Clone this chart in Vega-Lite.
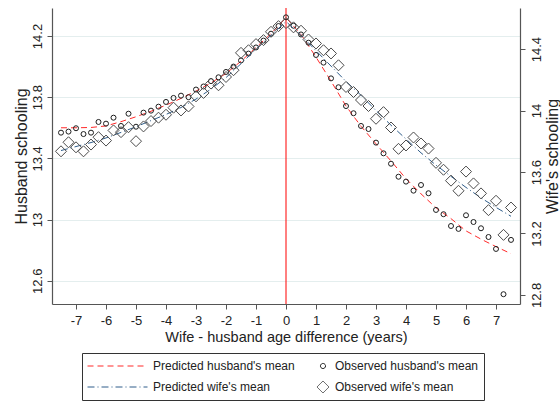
{
  "$schema": "https://vega.github.io/schema/vega-lite/v6.json",
  "width": 468,
  "height": 296,
  "autosize": {"type": "none"},
  "padding": {"left": 52, "top": 8, "right": 40, "bottom": 99},
  "background": "white",
  "config": {
    "font": "Liberation Sans",
    "view": {"stroke": null},
    "axis": {
      "domainColor": "#555555",
      "tickColor": "#555555",
      "labelColor": "#222222",
      "titleColor": "#222222",
      "titleFontWeight": "normal",
      "domainWidth": 1.2,
      "tickWidth": 1,
      "tickSize": 5,
      "labelFlush": false,
      "labelOverlap": false
    },
    "legend": {
      "columns": 2,
      "columnPadding": 4,
      "rowPadding": 5,
      "padding": 5,
      "strokeColor": "#333333",
      "fillColor": "white",
      "symbolSize": 3600,
      "clipHeight": 16,
      "labelFontSize": 12,
      "labelColor": "#222222",
      "labelOffset": 5,
      "labelLimit": 300,
      "symbolStrokeWidth": 1
    }
  },
  "datasets": {
    "observed": [
      {"d": -7.5, "oh": 13.568, "ow": 13.735},
      {"d": -7.25, "oh": 13.575, "ow": 13.794},
      {"d": -7.0, "oh": 13.597, "ow": 13.761},
      {"d": -6.75, "oh": 13.559, "ow": 13.735},
      {"d": -6.5, "oh": 13.568, "ow": 13.779},
      {"d": -6.25, "oh": 13.638, "ow": 13.827},
      {"d": -6.0, "oh": 13.627, "ow": 13.805},
      {"d": -5.75, "oh": 13.666, "ow": 13.871},
      {"d": -5.5, "oh": 13.612, "ow": 13.86},
      {"d": -5.25, "oh": 13.692, "ow": 13.892},
      {"d": -5.0, "oh": 13.607, "ow": 13.801},
      {"d": -4.75, "oh": 13.699, "ow": 13.897},
      {"d": -4.5, "oh": 13.712, "ow": 13.932},
      {"d": -4.25, "oh": 13.738, "ow": 13.954},
      {"d": -4.0, "oh": 13.769, "ow": 13.973},
      {"d": -3.75, "oh": 13.795, "ow": 14.019},
      {"d": -3.5, "oh": 13.81, "ow": 14.001},
      {"d": -3.25, "oh": 13.8, "ow": 14.027},
      {"d": -3.0, "oh": 13.85, "ow": 14.093},
      {"d": -2.75, "oh": 13.87, "ow": 14.115},
      {"d": -2.5, "oh": 13.905, "ow": 14.176},
      {"d": -2.25, "oh": 13.93, "ow": 14.165},
      {"d": -2.0, "oh": 13.965, "ow": 14.219},
      {"d": -1.75, "oh": 14.0, "ow": 14.263},
      {"d": -1.5, "oh": 14.04, "ow": 14.376},
      {"d": -1.25, "oh": 14.085, "ow": 14.393},
      {"d": -1.0, "oh": 14.125, "ow": 14.433},
      {"d": -0.75, "oh": 14.17, "ow": 14.459},
      {"d": -0.5, "oh": 14.215, "ow": 14.513},
      {"d": -0.25, "oh": 14.265, "ow": 14.55},
      {"d": 0.0, "oh": 14.322, "ow": 14.57},
      {"d": 0.25, "oh": 14.267, "ow": 14.542},
      {"d": 0.5, "oh": 14.21, "ow": 14.52},
      {"d": 0.75, "oh": 14.156, "ow": 14.463},
      {"d": 1.0, "oh": 14.076, "ow": 14.437},
      {"d": 1.25, "oh": 14.026, "ow": 14.393},
      {"d": 1.5, "oh": 13.923, "ow": 14.372},
      {"d": 1.75, "oh": 13.865, "ow": 14.295},
      {"d": 2.0, "oh": 13.742, "ow": 14.154},
      {"d": 2.25, "oh": 13.695, "ow": 14.121},
      {"d": 2.5, "oh": 13.612, "ow": 14.069},
      {"d": 2.75, "oh": 13.592, "ow": 14.03},
      {"d": 3.0, "oh": 13.503, "ow": 13.947},
      {"d": 3.25, "oh": 13.433, "ow": 13.99},
      {"d": 3.5, "oh": 13.365, "ow": 13.89},
      {"d": 3.75, "oh": 13.28, "ow": 13.751},
      {"d": 4.0, "oh": 13.248, "ow": 13.773},
      {"d": 4.25, "oh": 13.189, "ow": 13.825},
      {"d": 4.5, "oh": 13.226, "ow": 13.786},
      {"d": 4.75, "oh": 13.172, "ow": 13.753},
      {"d": 5.0, "oh": 13.063, "ow": 13.66},
      {"d": 5.25, "oh": 13.035, "ow": 13.615},
      {"d": 5.5, "oh": 12.958, "ow": 13.544},
      {"d": 5.75, "oh": 12.939, "ow": 13.478},
      {"d": 6.0, "oh": 13.028, "ow": 13.603},
      {"d": 6.25, "oh": 12.984, "ow": 13.526},
      {"d": 6.5, "oh": 12.943, "ow": 13.461},
      {"d": 6.75, "oh": 12.886, "ow": 13.352},
      {"d": 7.0, "oh": 12.808, "ow": 13.413},
      {"d": 7.25, "oh": 12.512, "ow": 13.191},
      {"d": 7.5, "oh": 12.867, "ow": 13.369}
    ],
    "predicted": [
      {"d": -7.5, "ph": 13.6, "pw": 13.74},
      {"d": -7.0, "ph": 13.6, "pw": 13.766},
      {"d": -6.5, "ph": 13.602, "pw": 13.792},
      {"d": -6.0, "ph": 13.612, "pw": 13.822},
      {"d": -5.5, "ph": 13.64, "pw": 13.858},
      {"d": -5.0, "ph": 13.672, "pw": 13.895},
      {"d": -4.5, "ph": 13.708, "pw": 13.935},
      {"d": -4.0, "ph": 13.748, "pw": 13.975},
      {"d": -3.5, "ph": 13.792, "pw": 14.02},
      {"d": -3.0, "ph": 13.84, "pw": 14.075},
      {"d": -2.5, "ph": 13.893, "pw": 14.14},
      {"d": -2.0, "ph": 13.955, "pw": 14.215},
      {"d": -1.5, "ph": 14.035, "pw": 14.305},
      {"d": -1.0, "ph": 14.125, "pw": 14.4},
      {"d": -0.5, "ph": 14.215, "pw": 14.49},
      {"d": 0.0, "ph": 14.32, "pw": 14.58},
      {"d": 0.5, "ph": 14.21, "pw": 14.49},
      {"d": 1.0, "ph": 14.062, "pw": 14.39},
      {"d": 1.5, "ph": 13.905, "pw": 14.29},
      {"d": 2.0, "ph": 13.742, "pw": 14.19},
      {"d": 2.5, "ph": 13.61, "pw": 14.1},
      {"d": 3.0, "ph": 13.495, "pw": 14.0},
      {"d": 3.5, "ph": 13.383, "pw": 13.905},
      {"d": 4.0, "ph": 13.267, "pw": 13.815},
      {"d": 4.5, "ph": 13.168, "pw": 13.725},
      {"d": 5.0, "ph": 13.077, "pw": 13.645},
      {"d": 5.5, "ph": 13.006, "pw": 13.572},
      {"d": 6.0, "ph": 12.926, "pw": 13.5},
      {"d": 6.5, "ph": 12.872, "pw": 13.432},
      {"d": 7.0, "ph": 12.823, "pw": 13.37},
      {"d": 7.5, "ph": 12.777, "pw": 13.312}
    ]
  },
  "layer": [
    {
      "data": {"values": [{"d": 0}]},
      "mark": {"type": "rule", "color": "#ff0000", "strokeWidth": 1},
      "encoding": {
        "x": {
          "field": "d", "type": "quantitative",
          "scale": {"domain": [-7.8, 7.8], "nice": false, "zero": false},
          "axis": {
            "values": [-7, -6, -5, -4, -3, -2, -1, 0, 1, 2, 3, 4, 5, 6, 7],
            "labelExpr": "'' + datum.value",
            "title": "Wife - husband age difference (years)",
            "labelFontSize": 13, "titleFontSize": 14.5,
            "labelPadding": 5, "titlePadding": 3, "grid": false
          }
        }
      }
    },
    {
      "encoding": {
        "x": {
          "field": "d", "type": "quantitative",
          "scale": {"domain": [-7.8, 7.8], "nice": false, "zero": false},
          "axis": {
            "values": [-7, -6, -5, -4, -3, -2, -1, 0, 1, 2, 3, 4, 5, 6, 7],
            "labelExpr": "'' + datum.value",
            "title": "Wife - husband age difference (years)",
            "labelFontSize": 13, "titleFontSize": 14.5,
            "labelPadding": 5, "titlePadding": 3, "grid": false
          }
        },
        "y": {
          "field": "v", "type": "quantitative",
          "scale": {"domain": [12.448, 14.383], "nice": false, "zero": false},
          "axis": {
            "orient": "left",
            "values": [12.6, 13, 13.4, 13.8, 14.2],
            "labelExpr": "'' + datum.value",
            "title": "Husband schooling",
            "titleFontSize": 16, "titlePadding": 2,
            "labelFontSize": 13, "labelAngle": -90,
            "labelAlign": "center", "labelBaseline": "bottom", "labelPadding": 3,
            "grid": true, "gridColor": "#e4eeee", "gridWidth": 1
          }
        },
        "color": {
          "field": "series", "type": "nominal",
          "scale": {"domain": ["ph", "pw", "oh", "ow"], "range": ["#ff2a2a", "#2f5d8a", "#1e1e1e", "#4a4a4a"]},
          "legend": {
            "orient": "none", "legendX": 30, "legendY": 345, "title": null,
            "labelExpr": "{ph: \"Predicted husband's mean\", oh: \"Observed husband's mean\", pw: \"Predicted wife's mean\", ow: \"Observed wife's mean\"}[datum.value]",
            "encode": {
              "symbols": {
                "update": {
                  "shape": {"signal": "datum.value === 'oh' ? 'M-0.132,0A0.085,0.085 0 1,1 -0.302,0A0.085,0.085 0 1,1 -0.132,0Z' : datum.value === 'ow' ? 'M-0.417,0L-0.217,-0.2L-0.017,0L-0.217,0.2Z' : 'M-1,0H1'"},
                  "strokeDash": {"signal": "datum.value === 'ph' ? [6,4] : datum.value === 'pw' ? [8,3,1,3] : [1,0]"},
                  "size": {"value": 3600},
                  "fill": {"value": "transparent"},
                  "strokeWidth": {"value": 1},
                  "opacity": {"value": 1}
                }
              },
              "labels": {
                "update": {
                  "x": {"signal": "datum.value === 'oh' || datum.value === 'ow' ? 36 : 66"}
                }
              }
            }
          }
        }
      },
      "layer": [
        {
          "data": {"name": "predicted"},
          "transform": [{"fold": ["ph"], "as": ["series", "v"]}],
          "mark": {"type": "line", "strokeWidth": 1},
          "encoding": {
            "strokeDash": {
              "field": "series", "type": "nominal",
              "scale": {"domain": ["ph", "pw", "oh", "ow"], "range": [[6, 4], [7, 3, 1, 3], [1, 0], [1, 0]]},
              "legend": null
            }
          }
        },
        {
          "data": {"name": "observed"},
          "transform": [{"fold": ["oh"], "as": ["series", "v"]}],
          "mark": {"type": "point", "shape": "circle", "size": 25, "filled": false, "strokeWidth": 1, "opacity": 1}
        }
      ]
    },
    {
      "encoding": {
        "x": {
          "field": "d", "type": "quantitative",
          "scale": {"domain": [-7.8, 7.8], "nice": false, "zero": false},
          "axis": {
            "values": [-7, -6, -5, -4, -3, -2, -1, 0, 1, 2, 3, 4, 5, 6, 7],
            "labelExpr": "'' + datum.value",
            "title": "Wife - husband age difference (years)",
            "labelFontSize": 13, "titleFontSize": 14.5,
            "labelPadding": 5, "titlePadding": 3, "grid": false
          }
        },
        "y": {
          "field": "v", "type": "quantitative",
          "scale": {"domain": [12.741, 14.668], "nice": false, "zero": false},
          "axis": {
            "orient": "right",
            "values": [12.8, 13.2, 13.6, 14, 14.4],
            "labelExpr": "'' + datum.value",
            "title": "Wife's schooling",
            "titleFontSize": 16, "titlePadding": 1,
            "titleAngle": 270, "titleBaseline": "top",
            "labelFontSize": 13, "labelAngle": -90,
            "labelAlign": "center", "labelBaseline": "top", "labelPadding": 5,
            "grid": false
          }
        },
        "color": {
          "field": "series", "type": "nominal",
          "scale": {"domain": ["ph", "pw", "oh", "ow"], "range": ["#ff2a2a", "#2f5d8a", "#1e1e1e", "#4a4a4a"]},
          "legend": {
            "orient": "none", "legendX": 30, "legendY": 345, "title": null,
            "labelExpr": "{ph: \"Predicted husband's mean\", oh: \"Observed husband's mean\", pw: \"Predicted wife's mean\", ow: \"Observed wife's mean\"}[datum.value]",
            "encode": {
              "symbols": {
                "update": {
                  "shape": {"signal": "datum.value === 'oh' ? 'M-0.132,0A0.085,0.085 0 1,1 -0.302,0A0.085,0.085 0 1,1 -0.132,0Z' : datum.value === 'ow' ? 'M-0.417,0L-0.217,-0.2L-0.017,0L-0.217,0.2Z' : 'M-1,0H1'"},
                  "strokeDash": {"signal": "datum.value === 'ph' ? [6,4] : datum.value === 'pw' ? [8,3,1,3] : [1,0]"},
                  "size": {"value": 3600},
                  "fill": {"value": "transparent"},
                  "strokeWidth": {"value": 1},
                  "opacity": {"value": 1}
                }
              },
              "labels": {
                "update": {
                  "x": {"signal": "datum.value === 'oh' || datum.value === 'ow' ? 36 : 66"}
                }
              }
            }
          }
        }
      },
      "layer": [
        {
          "data": {"name": "predicted"},
          "transform": [{"fold": ["pw"], "as": ["series", "v"]}],
          "mark": {"type": "line", "strokeWidth": 1},
          "encoding": {
            "strokeDash": {
              "field": "series", "type": "nominal",
              "scale": {"domain": ["ph", "pw", "oh", "ow"], "range": [[6, 4], [7, 3, 1, 3], [1, 0], [1, 0]]},
              "legend": null
            }
          }
        },
        {
          "data": {"name": "observed"},
          "transform": [{"fold": ["ow"], "as": ["series", "v"]}],
          "mark": {"type": "point", "shape": "diamond", "size": 121, "filled": false, "strokeWidth": 1, "opacity": 1}
        }
      ]
    }
  ],
  "resolve": {"scale": {"y": "independent"}}
}
